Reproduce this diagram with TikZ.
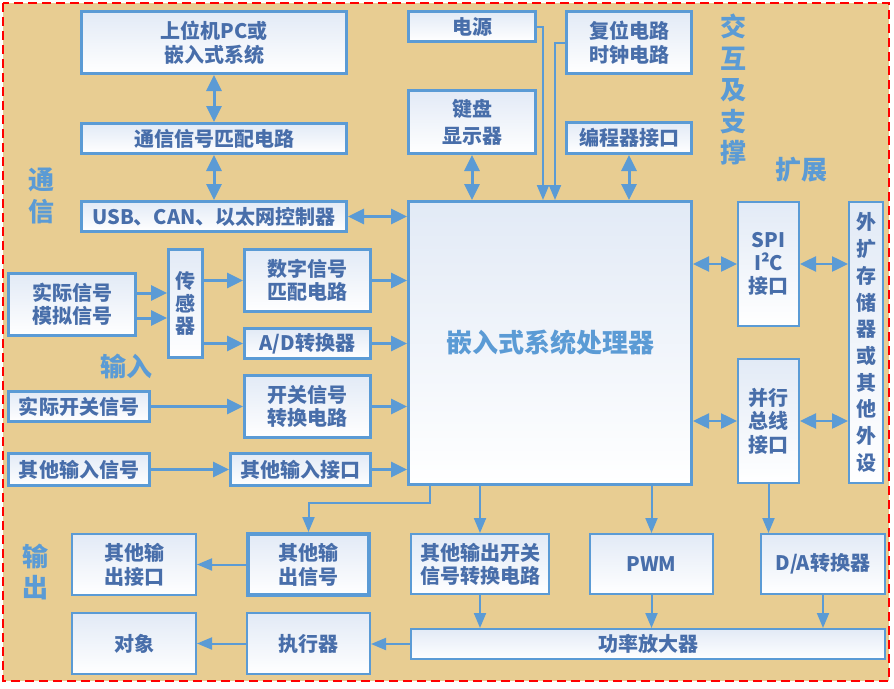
\documentclass[tikz,border=0pt]{standalone}
\usepackage{fontspec}
\setmainfont{Noto Sans CJK SC}
\usetikzlibrary{arrows.meta, positioning, calc}
\definecolor{boxblue}{RGB}{91,155,213}
\definecolor{boxtop}{RGB}{226,234,246}
\definecolor{boxtext}{RGB}{72,110,170}
\definecolor{tagblue}{RGB}{91,155,213}
\definecolor{bgtan}{RGB}{232,205,146}
\tikzset{
  blk/.style={
	draw=boxblue, line width=3pt, % thick blue frame
	top color=boxtop, bottom color=white, % pale gradient inside
	text=boxtext, align=center, inner sep=0pt,
	font=\fontsize{20}{24}\selectfont\bfseries,
  },
  blkthin/.style={blk, line width=2pt}, % frames on the right and at the bottom
  wh/.style 2 args={minimum width=#1pt, minimum height=#2pt},
  tag/.style={text=tagblue, align=center, font=\fontsize{26}{31.5}\selectfont\bfseries},
  conn/.style={-{Triangle[length=16pt,width=15pt]}, draw=boxblue, line width=3pt},
  bi/.style={{Triangle[length=16pt,width=15pt]}-{Triangle[length=16pt,width=15pt]}, draw=boxblue, line width=3pt},
  feed/.style={-{Triangle[length=15pt,width=12pt]}, draw=boxblue, line width=2pt},
}
\begin{document}
\begin{tikzpicture}[x=1pt, y=-1pt]
\useasboundingbox (0,0) rectangle (894,688);
\fill[bgtan] (3,3) rectangle (889,681);
\draw[red, line width=2pt, dash pattern=on 9pt off 5pt] (3,3) rectangle (889,681);

% communication
\node[blk, wh={265}{62}] (pc) at (214,42.5) {上位机PC或\\嵌入式系统};
\node[blk, wh={265}{30}] (match) at (214,138.5) {通信信号匹配电路};
\node[blk, wh={265}{30}] (usb) at (214,216.5) {USB、CAN、以太网控制器};

% interaction and support
\node[blk, wh={127}{30}] (power) at (472,26.5) {电源};
\node[blk, wh={125}{62}] (reset) at (629,42.5) {复位电路\\时钟电路};
\node[blk, wh={127}{63}, font=\fontsize{20}{27}\selectfont\bfseries] (key) at (472,122) {键盘\\显示器};
\node[blk, wh={125}{31}] (prog) at (629,138) {编程器接口};

% processor
\node[blk, wh={283}{283}, text=tagblue, font=\fontsize{26}{30}\selectfont\bfseries] (cpu) at (550,343) {嵌入式系统处理器};

% extension
\node[blkthin, wh={61}{124}, font=\fontsize{20}{23}\selectfont\bfseries] (spi) at (768.5,264) {SPI\\I²C\\接口};
\node[blkthin, wh={61}{124}, font=\fontsize{20}{23.5}\selectfont\bfseries] (par) at (768.5,421) {并行\\总线\\接口};
\node[blkthin, wh={34}{281}, font=\fontsize{20}{26.7}\selectfont\bfseries] (ext) at (866,342.5) {外\\扩\\存\\储\\器\\或\\其\\他\\外\\设};

% input
\node[blk, wh={127}{62}, font=\fontsize{20}{23}\selectfont\bfseries] (analog) at (72,304.5) {实际信号\\模拟信号};
\node[blk, wh={34}{108}, font=\fontsize{20}{22.5}\selectfont\bfseries] (sensor) at (185.5,303.5) {传\\感\\器};
\node[blk, wh={126}{62}, font=\fontsize{20}{23}\selectfont\bfseries] (digital) at (307.5,280.5) {数字信号\\匹配电路};
\node[blk, wh={126}{30}] (ad) at (307.5,343.5) {A/D转换器};
\node[blk, wh={141}{30}] (switch) at (79,406.5) {实际开关信号};
\node[blk, wh={126}{62}, font=\fontsize{20}{23}\selectfont\bfseries] (swconv) at (307.5,406.5) {开关信号\\转换电路};
\node[blk, wh={141}{32}] (otherin) at (79,469.5) {其他输入信号};
\node[blk, wh={140}{32}] (inport) at (300.5,469.5) {其他输入接口};

% output
\node[blkthin, wh={124}{61}] (outport) at (134,564.5) {其他输\\出接口};
\node[blk, wh={121}{61}, line width=4pt] (outsig) at (308.5,564.5) {其他输\\出信号};
\node[blkthin, wh={138}{60}, font=\fontsize{20}{23}\selectfont\bfseries] (outsw) at (480,564) {其他输出开关\\信号转换电路};
\node[blkthin, wh={123}{60}] (pwm) at (651.5,564) {PWM};
\node[blkthin, wh={124}{60}] (da) at (823,564) {D/A转换器};
\node[blkthin, wh={124}{61}] (obj) at (134,643.5) {对象};
\node[blkthin, wh={123}{61}] (act) at (308.5,643.5) {执行器};
\node[blkthin, wh={474}{30}] (amp) at (648,644) {功率放大器};

% side labels
\node[tag] (lcomm) at (41,196) {通\\信};
\node[tag] (lsup) at (733,90) {交\\互\\及\\支\\撑};
\node[tag] (lext) at (801,170) {扩展};
\node[tag] (lin) at (126,366) {输入};
\node[tag] (lout) at (35,572) {输\\出};

% connectors
\draw[bi] (pc) -- (match);
\draw[bi] (match) -- (usb);
\draw[bi] (usb.east) -- (usb.east -| cpu.west);
\draw[bi] (key) -- (key |- cpu.north);
\draw[bi] (prog) -- (prog |- cpu.north);
\draw[feed] (power.east) -| ([xshift=-7pt]cpu.north);
\draw[feed] (reset.west) -| ([xshift=5pt]cpu.north);
\draw[bi, line width=2.5pt] (cpu.east |- spi) -- (spi.west);
\draw[bi, line width=2.5pt] (spi.east) -- (spi.east -| ext.west);
\draw[bi, line width=2.5pt] (cpu.east |- par) -- (par.west);
\draw[bi, line width=2.5pt] (par.east) -- (par.east -| ext.west);
\draw[feed] (par.south) -- (par.south |- da.north);

\draw[conn] ([yshift=11.5pt]analog.east) -- ([yshift=11.5pt]analog.east -| sensor.west);
\draw[conn] ([yshift=-13.5pt]analog.east) -- ([yshift=-13.5pt]analog.east -| sensor.west);
\draw[conn] (sensor.east |- digital) -- (digital.west);
\draw[conn] (sensor.east |- ad) -- (ad.west);
\draw[conn] (digital.east) -- (digital.east -| cpu.west);
\draw[conn] (ad.east) -- (ad.east -| cpu.west);
\draw[conn] (switch.east) -- (swconv.west);
\draw[conn] (swconv.east) -- (swconv.east -| cpu.west);
\draw[conn] (otherin.east) -- (inport.west);
\draw[conn] (inport.east) -- (inport.east -| cpu.west);

\draw[feed] ([xshift=-120pt]cpu.south) -- ++(0,17) -| (outsig.north);
\draw[feed] (outsw.north |- cpu.south) -- (outsw.north);
\draw[feed] (pwm.north |- cpu.south) -- (pwm.north);
\draw[feed] (outsig.west) -- (outport.east);
\draw[feed] (outsw.south) -- (outsw.south |- amp.north);
\draw[feed] (pwm.south) -- (pwm.south |- amp.north);
\draw[feed] (da.south) -- (da.south |- amp.north);
\draw[feed] (amp.west) -- (amp.west -| act.east);
\draw[feed] (act.west) -- (obj.east);
\end{tikzpicture}
\end{document}
